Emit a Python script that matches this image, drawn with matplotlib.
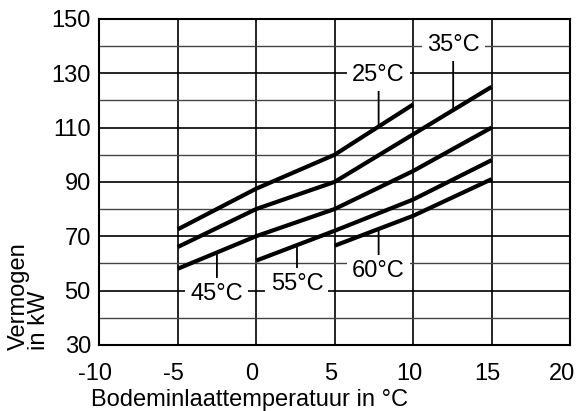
import matplotlib
matplotlib.use("Agg")
import matplotlib.pyplot as plt
import matplotlib.transforms as mtransforms
import numpy as np

plt.rcParams['font.family'] = ['Liberation Sans', 'DejaVu Sans']
plt.rcParams['axes.unicode_minus'] = False

# Bodeminlaattemperatuur (°C) en vermogen (kW) per aanvoertemperatuur
x_25 = [-5, 0, 5, 10]
y_25 = [72.5, 87.5, 100, 118.5]
x_35 = [-5, 0, 5, 10, 15]
y_35 = [66, 80, 90, 107.5, 125]
x_45 = [-5, 0, 5, 10, 15]
y_45 = [58, 70, 80, 94, 110]
x_55 = [0, 5, 10, 15]
y_55 = [61, 72, 83.5, 98]
x_60 = [5, 10, 15]
y_60 = [66.5, 77.5, 91]

labels = ['25°C', '35°C', '45°C', '55°C', '60°C']
# label anchor: x on curve, y of text
label_x = [7.8, 12.55, -2.5, 2.6, 7.8]
label_y = [129.5, 140.5, 48.8, 52.4, 57]

series = [(x_25, y_25), (x_35, y_35), (x_45, y_45), (x_55, y_55), (x_60, y_60)]

fig = plt.figure(figsize=(5.8, 4.11), dpi=100)
ax = fig.add_axes([0.171, 0.161, 0.812, 0.793])

ax.set_xlim(-10, 20)
ax.set_ylim(30, 150)
ax.set_xticks(np.arange(-10, 21, 5))
ax.set_yticks(np.arange(30, 151, 20))
ax.set_yticks(np.arange(40, 150, 20), minor=True)
ax.grid(True, which='major', color='black', lw=1.2)
ax.grid(True, which='minor', axis='y', color='#444444', lw=1.0)
ax.set_axisbelow(True)
ax.tick_params(which='both', length=0, labelsize=17)
ax.tick_params(axis='x', pad=13)
ax.tick_params(axis='y', pad=6)
for s in ax.spines.values():
    s.set_linewidth(1.5)

# x tick labels sit slightly left of the grid lines
xl = ax.get_xticklabels()
for i, t in enumerate(xl):
    dx = -8 if i == len(xl) - 1 else -4
    t.set_transform(t.get_transform() + mtransforms.ScaledTranslation(dx / 100, 0, fig.dpi_scale_trans))

for xs, ys in series:
    ax.plot(xs, ys, color='black', lw=3.0, solid_capstyle='butt', zorder=3)

for (xs, ys), lab, lx, ly in zip(series, labels, label_x, label_y):
    cy = np.interp(lx, xs, ys)
    ax.annotate(lab, xy=(lx, cy), xytext=(lx, ly), ha='center', va='center',
                fontsize=17, zorder=4,
                bbox=dict(boxstyle='square,pad=0.22', fc='white', ec='none'),
                arrowprops=dict(arrowstyle='-', lw=1.3, color='black',
                                shrinkA=0, shrinkB=0))

fig.text(0.431, 0.012, 'Bodeminlaattemperatuur in °C', fontsize=17,
         ha='center', va='baseline')
fig.text(0.05, 0.148, 'Vermogen\nin kW', rotation=90, fontsize=17,
         ha='center', va='bottom', multialignment='left', linespacing=0.9)

fig.savefig('out.png', dpi=100)
